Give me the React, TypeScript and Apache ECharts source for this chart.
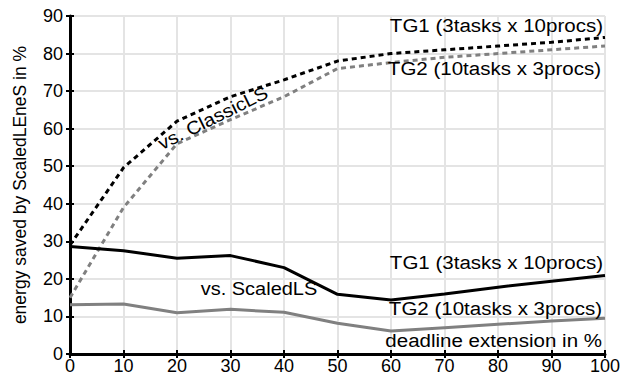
import React, { useEffect, useRef } from "react";
import * as echarts from "echarts";

const xValues = [0, 10, 20, 30, 40, 50, 60, 70, 80, 90, 100];
const tg1Classic = [29, 49.6, 62, 68.5, 73, 78, 80, 81, 82, 83, 84.3];
const tg2Classic = [15, 39, 56, 62.4, 68.5, 76, 77.6, 79, 80, 81, 82];
const tg1Scaled = [28.6, 27.5, 25.5, 26.2, 23, 15.9, 14.4, 16, 17.8, 19.4, 20.9];
const tg2Scaled = [13.1, 13.3, 11, 11.9, 11.1, 8.2, 6.1, 7, 7.9, 8.8, 9.5];

const yName = "energy saved by ScaledLEneS in %";
const labelTG1 = "TG1 (3tasks x 10procs)";
const labelTG2 = "TG2 (10tasks x 3procs)";
const labelClassic = "vs. ClassicLS";
const labelScaled = "vs. ScaledLS";
const labelX = "deadline extension in %";

const FONT = "'Liberation Sans', Arial, Helvetica, sans-serif";

function pairs(ys: number[]) {
  return xValues.map((x, i) => [x, ys[i]]);
}

function txt(text: string, x: number, y: number, align: string, fontSize: number, rotation = 0) {
  return {
    type: "text",
    x,
    y,
    rotation,
    scaleX: 1.08,
    z: 100,
    style: {
      text,
      fill: "#000",
      font: `${fontSize}px ${FONT}`,
      align,
      verticalAlign: "middle",
    },
  };
}

export default function App() {
  const ref = useRef<HTMLDivElement>(null);
  useEffect(() => {
    if (!ref.current) return;
    const chart = echarts.init(ref.current, null, { renderer: "svg" });
    const axisCommon = {
      type: "value",
      interval: 10,
      axisTick: { show: true, inside: true, length: 4, lineStyle: { color: "#000", width: 2 } },
    };
    chart.setOption({
      animation: false,
      backgroundColor: "#fff",
      grid: { left: 70, right: 26, top: 16, bottom: 21, containLabel: false },
      xAxis: [
        {
          ...axisCommon,
          min: 0,
          max: 100,
          position: "bottom",
          axisLine: { show: true, lineStyle: { color: "#000", width: 3 } },
          axisLabel: { color: "#000", fontSize: 18, fontFamily: FONT, margin: 3 },
          splitLine: { show: true, lineStyle: { color: "#e4e4e4", width: 2 } },
        },
        {
          ...axisCommon,
          min: 0,
          max: 100,
          position: "top",
          axisLine: { show: true, lineStyle: { color: "#000", width: 2 } },
          axisLabel: { show: false },
          splitLine: { show: false },
        },
      ],
      yAxis: [
        {
          ...axisCommon,
          min: 0,
          max: 90,
          position: "left",
          name: yName,
          nameLocation: "middle",
          nameRotate: 90,
          nameGap: 41,
          nameTextStyle: { color: "#000", fontSize: 17.5, fontFamily: FONT },
          axisLine: { show: true, lineStyle: { color: "#000", width: 3 } },
          axisLabel: { color: "#000", fontSize: 18, fontFamily: FONT, margin: 7 },
          splitLine: { show: true, lineStyle: { color: "#e4e4e4", width: 2 } },
        },
        {
          ...axisCommon,
          min: 0,
          max: 90,
          position: "right",
          axisLine: { show: true, lineStyle: { color: "#000", width: 2 } },
          axisLabel: { show: false },
          splitLine: { show: false },
        },
      ],
      series: [
        {
          type: "line",
          name: "TG2 vs ClassicLS",
          data: pairs(tg2Classic),
          symbol: "none",
          lineStyle: { color: "#808080", width: 3, type: [5, 4] },
          z: 2,
        },
        {
          type: "line",
          name: "TG1 vs ClassicLS",
          data: pairs(tg1Classic),
          symbol: "none",
          lineStyle: { color: "#000", width: 3, type: [5, 4] },
          z: 3,
        },
        {
          type: "line",
          name: "TG2 vs ScaledLS",
          data: pairs(tg2Scaled),
          symbol: "none",
          lineStyle: { color: "#808080", width: 3 },
          z: 2,
        },
        {
          type: "line",
          name: "TG1 vs ScaledLS",
          data: pairs(tg1Scaled),
          symbol: "none",
          lineStyle: { color: "#000", width: 3 },
          z: 3,
        },
      ],
      graphic: [
        txt(labelTG1, 603, 25, "right", 19),
        txt(labelTG2, 601, 68, "right", 19),
        txt(labelClassic, 213, 118, "center", 18.5, 0.46),
        txt(labelScaled, 259, 289, "center", 18.5),
        txt(labelTG1, 603, 262, "right", 19),
        txt(labelTG2, 602, 308, "right", 19),
        txt(labelX, 602, 340, "right", 19),
      ],
    });
    return () => chart.dispose();
  }, []);
  return (
    <div
      ref={ref}
      style={{ position: "fixed", left: 0, top: 0, width: 631, height: 375, background: "#fff" }}
    />
  );
}
